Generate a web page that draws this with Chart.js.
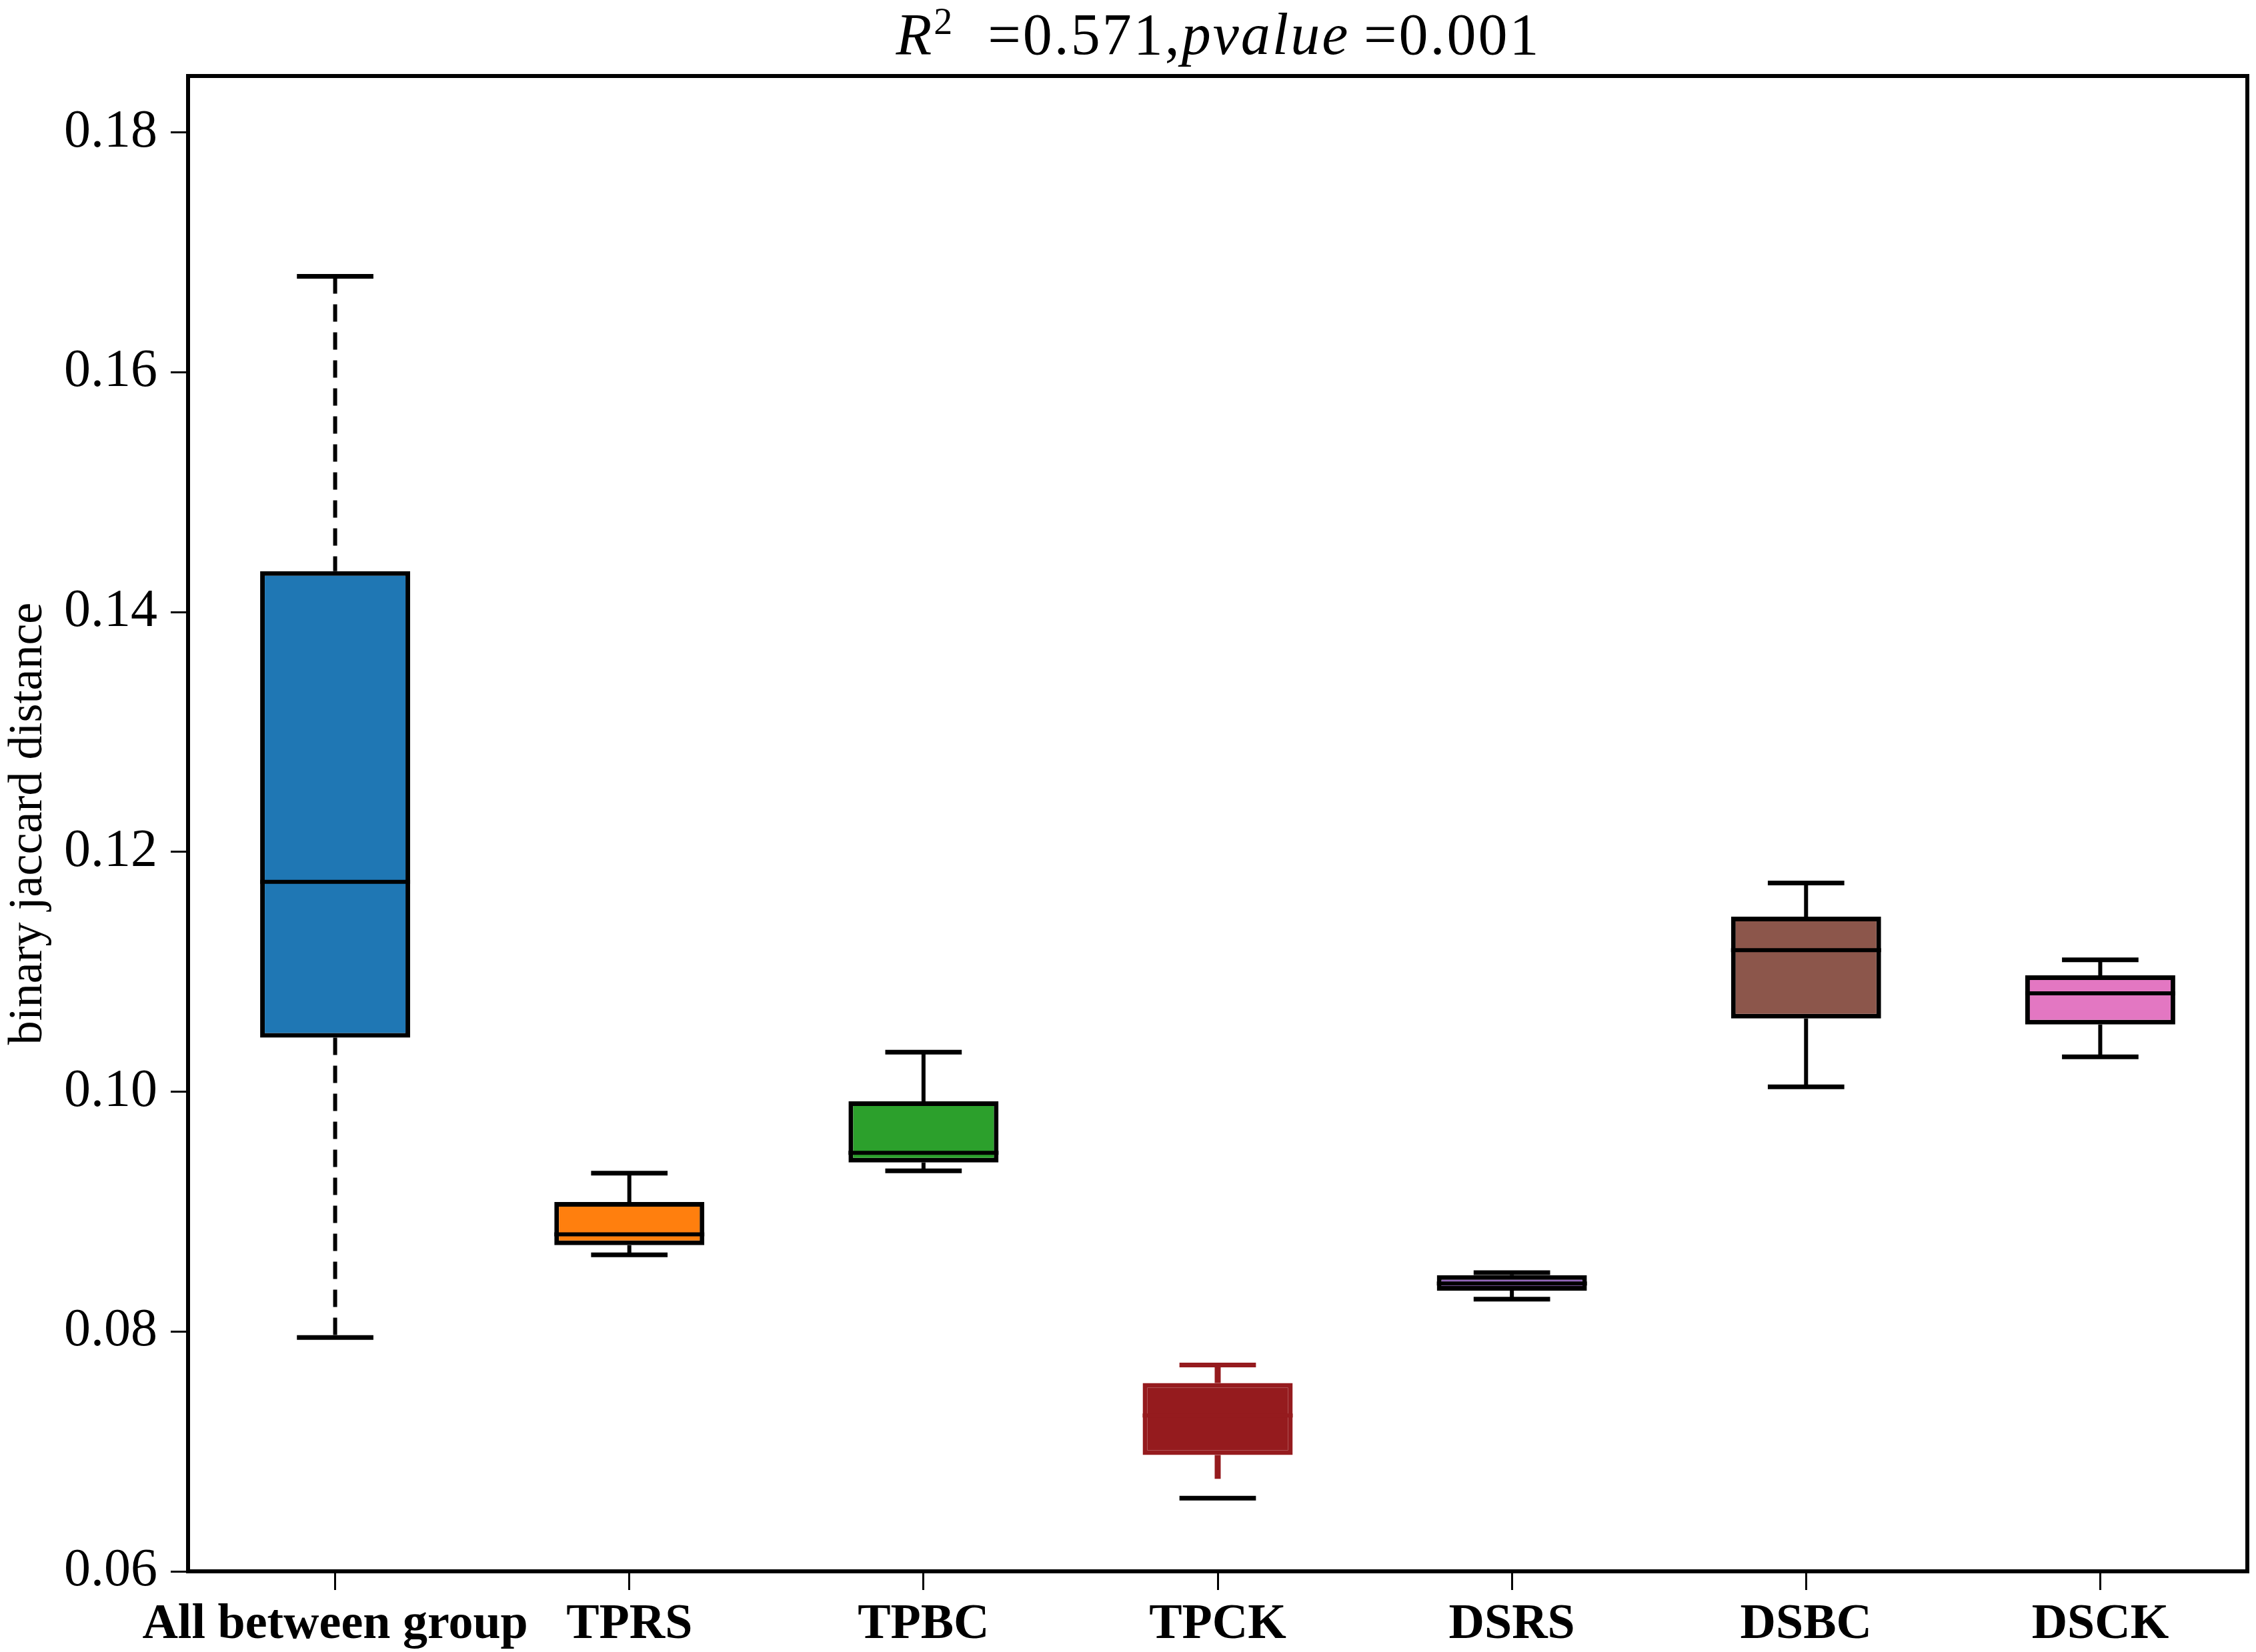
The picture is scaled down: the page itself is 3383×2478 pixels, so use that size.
<!DOCTYPE html>
<html>
<head>
<meta charset="utf-8">
<script src="https://cdn.jsdelivr.net/npm/chart.js@4"></script>
<style>
  html, body { margin: 0; padding: 0; background: #fff; }
  #wrap { position: relative; width: 3383px; height: 2478px; }
  #title {
    position: absolute; left: 0; top: 8px; width: 3654px; text-align: center;
    font-family: "Liberation Serif", "DejaVu Serif", serif; font-size: 88px;
    line-height: 88px; color: #000; letter-spacing: 3px; white-space: nowrap;
  }
  #title sup { font-size: 56px; vertical-align: 30px; line-height: 0; }
</style>
</head>
<body>
<div id="wrap">
  <canvas id="myChart" width="3383" height="2478"></canvas>
  <div id="title"><i>R</i><sup>2</sup>&nbsp;&nbsp;=0.571,<i>pvalue</i>&thinsp;=0.001</div>
</div>
<script>
'use strict';
const categories = ['All between group', 'TPRS', 'TPBC', 'TPCK', 'DSRS', 'DSBC', 'DSCK'];
const whiskerLow = [0.0795, 0.0864, 0.0934, 0.0661, 0.0827, 0.1004, 0.1029];
const q1 = [0.1045, 0.0872, 0.0941, 0.0697, 0.0834, 0.1061, 0.1056];
const median = [0.1175, 0.0881, 0.0949, 0.0730, 0.0840, 0.1118, 0.1082];
const q3 = [0.1434, 0.0908, 0.0992, 0.0757, 0.0847, 0.1146, 0.1097];
const whiskerHigh = [0.1680, 0.0932, 0.1033, 0.0772, 0.0849, 0.1174, 0.1110];
const yTicks = [0.06, 0.08, 0.10, 0.12, 0.14, 0.16, 0.18];

// styles
const fillColors = ['#1f77b4', '#ff7f0e', '#2ca02c', '#951b1e', '#9467bd', '#8c564b', '#e377c2'];
const edgeColors = ['#000', '#000', '#000', '#951b1e', '#000', '#000', '#000'];
const lowCapColors = ['#000', '#000', '#000', '#000', '#000', '#000', '#000'];
const dashed = [true, false, false, false, false, false, false];

const boxes = [];
for (let i = 0; i < categories.length; i++) {
  boxes.push([q1[i], q3[i]]);
}

// whiskers, caps and medians, placed with the chart's own scales
const boxParts = {
  id: 'boxParts',
  beforeDatasetsDraw(chart) {
    const ctx = chart.ctx;
    const x = chart.scales.x;
    const y = chart.scales.y;
    const capHalf = x.width / categories.length * 0.13;
    ctx.save();
    for (let i = 0; i < categories.length; i++) {
      const cx = x.getPixelForValue(i);
      const yLow = y.getPixelForValue(whiskerLow[i]);
      const yQ1 = y.getPixelForValue(q1[i]);
      ctx.strokeStyle = edgeColors[i];
      ctx.lineWidth = edgeColors[i] === '#000' ? 6 : 9;
      ctx.setLineDash(dashed[i] ? [26, 16] : []);
      ctx.beginPath();
      ctx.moveTo(cx, y.getPixelForValue(whiskerHigh[i]));
      ctx.lineTo(cx, y.getPixelForValue(q3[i]));
      ctx.moveTo(cx, yQ1);
      // the coloured whisker stops a little short of its black cap
      ctx.lineTo(cx, lowCapColors[i] !== edgeColors[i] ? yQ1 + (yLow - yQ1) * 0.55 : yLow);
      ctx.stroke();
      ctx.setLineDash([]);
      ctx.lineWidth = 7;
      ctx.beginPath();
      ctx.moveTo(cx - capHalf, y.getPixelForValue(whiskerHigh[i]));
      ctx.lineTo(cx + capHalf, y.getPixelForValue(whiskerHigh[i]));
      ctx.stroke();
      ctx.strokeStyle = lowCapColors[i];
      ctx.beginPath();
      ctx.moveTo(cx - capHalf, yLow);
      ctx.lineTo(cx + capHalf, yLow);
      ctx.stroke();
    }
    ctx.restore();
  },
  afterDatasetsDraw(chart) {
    const ctx = chart.ctx;
    const y = chart.scales.y;
    const meta = chart.getDatasetMeta(0);
    ctx.save();
    for (let i = 0; i < categories.length; i++) {
      const bar = meta.data[i];
      const my = y.getPixelForValue(median[i]);
      ctx.strokeStyle = edgeColors[i];
      ctx.lineWidth = 6;
      ctx.beginPath();
      ctx.moveTo(bar.x - bar.width / 2, my);
      ctx.lineTo(bar.x + bar.width / 2, my);
      ctx.stroke();
    }
    // frame round the plot
    const a = chart.chartArea;
    ctx.strokeStyle = '#000';
    ctx.lineWidth = 6;
    ctx.strokeRect(a.left, a.top, a.right - a.left, a.bottom - a.top);
    ctx.restore();
  }
};

const ctx = document.getElementById('myChart').getContext('2d');
new Chart(ctx, {
  type: 'bar',
  data: {
    labels: categories,
    datasets: [{
      data: boxes,
      backgroundColor: fillColors,
      borderColor: edgeColors,
      borderWidth: 7,
      borderSkipped: false,
      barPercentage: 0.51,
      categoryPercentage: 1.0,
    }]
  },
  options: {
    responsive: false,
    animation: false,
    layout: { padding: { top: 114, right: 13, left: 0, bottom: 0 } },
    plugins: {
      legend: { display: false },
      tooltip: { enabled: false },
    },
    scales: {
      x: {
        offset: true,
        grid: { display: true, drawOnChartArea: false, drawTicks: true, offset: false, tickLength: 28, color: '#000', lineWidth: 3 },
        border: { display: true, color: '#000', width: 6 },
        ticks: {
          color: '#000', padding: 8, maxRotation: 0, autoSkip: false,
          font: { family: '"Liberation Serif", serif', size: 74, weight: 'bold' },
        },
        afterFit(scale) { scale.height = 121; },
      },
      y: {
        min: 0.06,
        max: 0.1847,
        grid: { display: true, drawOnChartArea: false, drawTicks: true, tickLength: 26, color: '#000', lineWidth: 3 },
        border: { display: true, color: '#000', width: 6 },
        title: {
          display: true, text: 'binary jaccard distance', color: '#000', padding: 0,
          font: { family: '"Liberation Serif", serif', size: 72 },
        },
        afterBuildTicks(scale) { scale.ticks = yTicks.map(v => ({ value: v })); },
        ticks: {
          color: '#000', padding: 20,
          font: { family: '"Liberation Serif", serif', size: 80 },
          callback: v => v.toFixed(2),
        },
        afterFit(scale) { scale.width = 282; },
      }
    }
  },
  plugins: [boxParts]
});
</script>
</body>
</html>
